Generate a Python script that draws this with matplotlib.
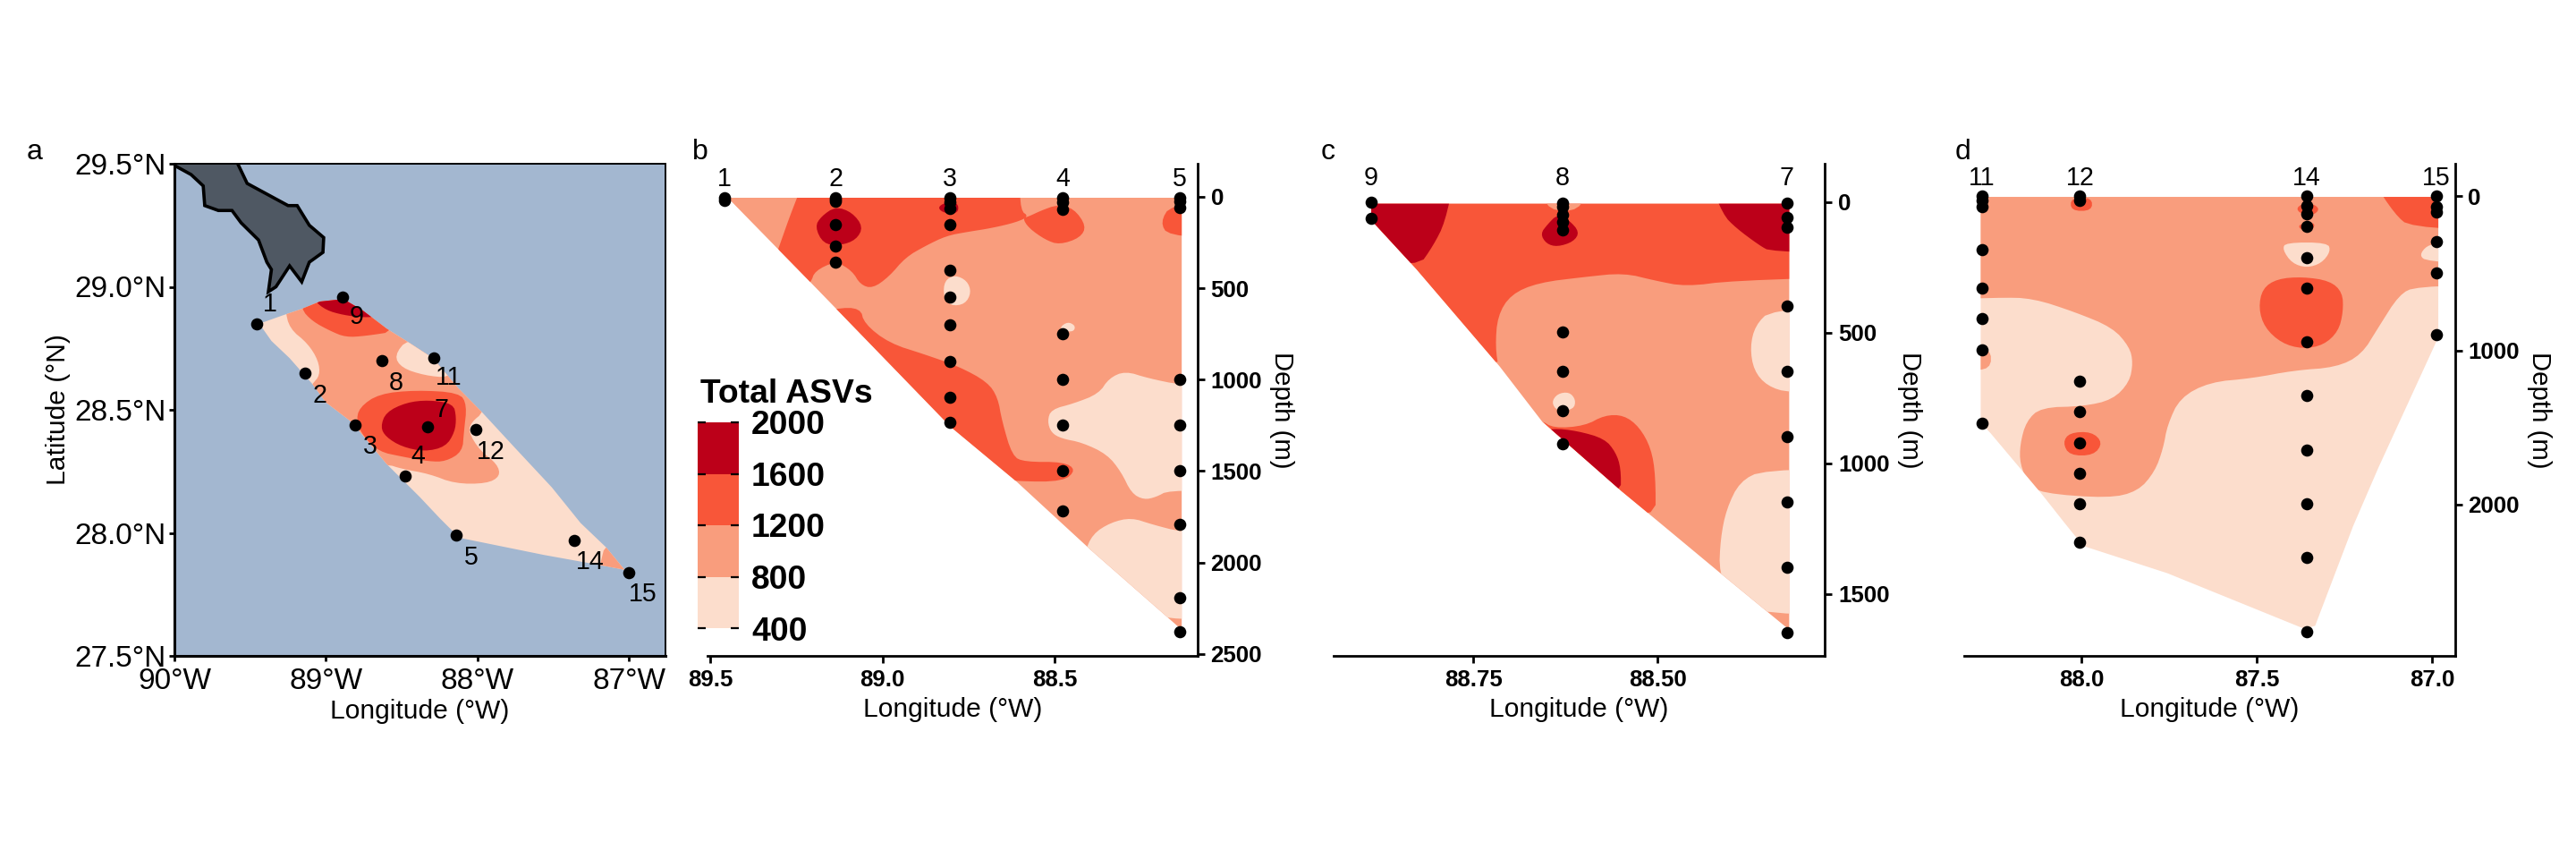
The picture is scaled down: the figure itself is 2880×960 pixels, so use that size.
import matplotlib
matplotlib.use('Agg')
import matplotlib.pyplot as plt
from matplotlib.patches import Polygon
from matplotlib.colors import ListedColormap
import numpy as np

plt.rcParams['font.family'] = ['Liberation Sans', 'DejaVu Sans']

LIGHT = '#FCDDCC'
SALMON = '#F99D7D'
RED = '#F85639'
DARK = '#BC0019'
SEA = '#A3B7D0'
LAND = '#4F5863'

# colour key
key_levels = [400, 800, 1200, 1600, 2000]

# panel a, stations (lon W, lat)
map_names = ['1', '2', '3', '4', '5', '7', '8', '9', '11', '12', '14', '15']
map_lon = [89.46, 89.14, 88.81, 88.48, 88.14, 88.33, 88.63, 88.89, 88.29, 88.01, 87.36, 87.00]
map_lat = [28.85, 28.65, 28.44, 28.23, 27.99, 28.43, 28.70, 28.96, 28.71, 28.42, 27.97, 27.84]
map_label_lon = [89.37, 89.04, 88.71, 88.39, 88.04, 88.24, 88.54, 88.80, 88.19, 87.91, 87.26, 86.91]
map_label_lat = [28.93, 28.56, 28.35, 28.31, 27.90, 28.50, 28.61, 28.88, 28.63, 28.33, 27.88, 27.75]

land = [(90.02, 29.5), (89.89, 29.456), (89.81, 29.41), (89.80, 29.33), (89.71, 29.31), (89.62, 29.31),
        (89.56, 29.26), (89.445, 29.19), (89.39, 29.10), (89.36, 29.07), (89.38, 28.98), (89.33, 29.00),
        (89.24, 29.085), (89.16, 29.02), (89.11, 29.10), (89.02, 29.14), (89.015, 29.20), (89.11, 29.25),
        (89.19, 29.33), (89.25, 29.33), (89.52, 29.42), (89.59, 29.51), (90.02, 29.51)]

a_hull = [(89.44, 28.85), (89.28, 28.885), (89.16, 28.91), (89.04, 28.94), (88.885, 28.95), (88.76, 28.905),
          (88.60, 28.83), (88.47, 28.78), (88.295, 28.71), (88.13, 28.59), (87.97, 28.49), (87.76, 28.35),
          (87.51, 28.185), (87.32, 28.04), (87.15, 27.94), (87.03, 27.85), (87.20, 27.87), (87.56, 27.91),
          (88.12, 27.98), (88.25, 28.06), (88.38, 28.145), (88.60, 28.28), (88.83, 28.45), (89.00, 28.53),
          (89.09, 28.605), (89.24, 28.71), (89.36, 28.78)]
a_salmon = [(89.27, 28.91), (89.24, 28.83), (89.12, 28.77), (89.05, 28.70), (89.04, 28.64), (89.09, 28.605),
            (89.15, 28.55), (88.855, 28.26), (88.60, 28.28), (88.50, 28.26), (88.32, 28.24), (88.15, 28.20),
            (87.94, 28.20), (87.85, 28.23), (87.87, 28.28), (87.985, 28.335), (88.06, 28.41), (88.04, 28.45),
            (87.96, 28.49), (87.91, 28.63), (88.50, 29.02), (89.27, 28.99)]
a_light_11 = [(88.46, 28.79), (88.55, 28.72), (88.50, 28.67), (88.35, 28.64), (88.19, 28.63), (88.15, 28.68),
              (88.265, 28.755)]
a_red_mid = [(88.80, 28.45), (88.78, 28.51), (88.65, 28.565), (88.41, 28.58), (88.12, 28.57), (88.07, 28.52),
             (88.09, 28.41), (88.10, 28.33), (88.21, 28.29), (88.32, 28.29), (88.50, 28.31), (88.65, 28.33),
             (88.75, 28.39)]
a_dark_mid = [(88.64, 28.43), (88.605, 28.49), (88.47, 28.53), (88.32, 28.54), (88.16, 28.525), (88.14, 28.47),
              (88.15, 28.41), (88.21, 28.35), (88.35, 28.33), (88.50, 28.35), (88.605, 28.39)]
a_red_top = [(89.165, 28.91), (89.09, 28.86), (88.97, 28.82), (88.87, 28.795), (88.74, 28.80), (88.53, 28.82),
             (88.71, 28.96), (89.15, 28.99)]
a_dark_top = [(89.08, 28.945), (89.00, 28.905), (88.885, 28.885), (88.75, 28.875), (88.65, 28.88), (88.80, 28.98),
              (89.03, 28.98)]
a_salmon_15 = [(87.19, 27.875), (87.155, 27.96), (87.0, 27.9), (86.97, 27.82), (87.2, 27.83)]

# panel b, transect 1-5 (lon W, depth m)
b_names = ['1', '2', '3', '4', '5']
b_lon = [89.458, 89.136, 88.804, 88.477, 88.136]
b_depths = [[5, 20],
            [5, 15, 25, 150, 270, 355],
            [5, 30, 65, 150, 400, 550, 700, 900, 1095, 1235],
            [5, 30, 70, 750, 1000, 1250, 1500, 1720],
            [5, 25, 60, 1000, 1250, 1500, 1790, 2195, 2380]]
b_hull = [(89.449, 5), (88.131, 5), (88.131, 2368), (88.396, 1930), (88.611, 1557), (88.802, 1258), (89.208, 469)]
b_red_top = [(89.226, -100), (89.267, 96), (89.291, 224), (89.309, 320), (89.232, 501), (89.208, 469), (89.196, 405),
             (89.136, 352), (89.088, 405), (89.064, 480), (89.029, 501), (88.981, 437), (88.933, 331), (88.874, 267),
             (88.814, 213), (88.754, 192), (88.683, 171), (88.611, 139), (88.575, 107), (88.599, 75), (88.601, -100)]
b_dark_2 = [(89.196, 164), (89.178, 107), (89.136, 53), (89.088, 85), (89.056, 164), (89.076, 235), (89.124, 267),
            (89.172, 256)]
b_dark_3 = [(88.84, 60), (88.82, 32), (88.78, 32), (88.78, 90), (88.82, 90)]
b_red_4 = [(88.575, 107), (88.539, 75), (88.492, 43), (88.444, 64), (88.408, 160), (88.426, 224), (88.486, 262),
           (88.527, 235), (88.575, 171), (88.593, 117)]
b_red_5 = [(88.0, 30), (88.163, 43), (88.193, 139), (88.17, 213), (88.0, 224)]
b_red_low = [(89.136, 608), (89.064, 608), (89.053, 693), (88.981, 800), (88.874, 864), (88.778, 928), (88.695, 1013),
             (88.665, 1098), (88.653, 1226), (88.623, 1418), (88.587, 1450), (88.474, 1450), (88.438, 1493),
             (88.474, 1557), (88.611, 1557), (88.754, 1525), (89.232, 672)]
b_light_3 = [(88.82, 459), (88.79, 427), (88.754, 459), (88.742, 523), (88.76, 587), (88.802, 597), (88.823, 544)]
b_light_4 = [(88.486, 715), (88.462, 683), (88.44, 704), (88.444, 736), (88.468, 736)]
b_light_right = [(88.521, 1226), (88.51, 1163), (88.444, 1130), (88.372, 1077), (88.342, 992), (88.295, 953),
                 (88.229, 992), (88.131, 1030), (88.0, 1035), (88.0, 1610), (88.17, 1606), (88.205, 1642),
                 (88.241, 1657), (88.277, 1621), (88.307, 1504), (88.348, 1408), (88.42, 1344), (88.48, 1322),
                 (88.51, 1290)]
b_light_low = [(88.39, 1845), (88.337, 1781), (88.277, 1755), (88.217, 1792), (88.131, 1834), (88.0, 1840),
               (88.0, 2310), (88.175, 2310), (88.277, 2250), (88.414, 1952)]

# panel c, transect 9-7
c_names = ['9', '8', '7']
c_lon = [88.888, 88.629, 88.325]
c_depths = [[2, 64],
            [5, 20, 48, 75, 109, 498, 648, 800, 924],
            [6, 60, 98, 398, 648, 898, 1148, 1398, 1648]]
c_hull = [(88.888, 7), (88.322, 7), (88.322, 1637), (88.415, 1421), (88.504, 1212), (88.549, 1107), (88.657, 839),
          (88.714, 630), (88.827, 257), (88.888, 70)]
c_red_top = [(88.2, -100), (88.2, 285), (88.399, 301), (88.462, 324), (88.504, 301), (88.546, 272), (88.599, 287),
             (88.662, 309), (88.699, 354), (88.717, 436), (88.72, 555), (88.715, 645), (88.819, 451), (89.0, -100)]
c_salmon_8 = [(88.66, -60), (88.594, -60), (88.606, 34), (88.648, 34)]
c_dark_left = [(88.95, -100), (88.775, -100), (88.788, 78), (88.804, 167), (88.825, 252), (88.95, 200)]
c_dark_right = [(88.432, -100), (88.412, 48), (88.394, 100), (88.362, 167), (88.347, 190), (88.2, 200),
                (88.2, -100)]
c_dark_8 = [(88.659, 122), (88.649, 85), (88.636, 48), (88.62, 70), (88.606, 115), (88.614, 152), (88.636, 172),
            (88.651, 160)]
c_red_low = [(88.659, 834), (88.641, 866), (88.599, 857), (88.572, 816), (88.546, 816), (88.525, 861), (88.509, 943),
             (88.503, 1048), (88.503, 1227), (88.609, 1122), (88.683, 839)]
c_dark_low = [(88.643, 866), (88.609, 876), (88.572, 906), (88.557, 958), (88.55, 1018), (88.55, 1122), (88.609, 1048),
              (88.662, 884)]
c_light_up = [(88.2, 388), (88.347, 413), (88.368, 473), (88.375, 555), (88.37, 645), (88.352, 704), (88.322, 731),
              (88.2, 734)]
c_light_low = [(88.2, 1021), (88.357, 1025), (88.389, 1070), (88.407, 1175), (88.415, 1287), (88.417, 1421),
               (88.399, 1525), (88.352, 1578), (88.2, 1578)]
c_light_8 = [(88.644, 767), (88.636, 734), (88.62, 727), (88.611, 757), (88.614, 794), (88.636, 801)]

# panel d, transect 11-15
d_names = ['11', '12', '14', '15']
d_lon = [88.284, 88.004, 87.359, 86.988]
d_depths = [[0, 30, 70, 346, 597, 796, 999, 1474],
            [0, 25, 1198, 1398, 1598, 1797, 1997, 2245],
            [0, 63, 114, 197, 397, 597, 945, 1294, 1646, 1995, 2343, 2826],
            [0, 68, 106, 296, 498, 897]]
d_hull = [(88.287, 5), (86.983, 5), (86.983, 915), (87.154, 1762), (87.226, 2141), (87.334, 2786), (87.364, 2806),
          (87.755, 2445), (87.995, 2268), (88.049, 2116), (88.115, 1926), (88.26, 1534), (88.287, 1471)]
d_salmon = [(88.5, 680), (88.236, 657), (88.139, 662), (88.019, 751), (87.911, 852), (87.863, 978), (87.853, 1079),
            (87.863, 1206), (87.911, 1320), (87.995, 1363), (88.115, 1370), (88.157, 1459), (88.175, 1610),
            (88.175, 1737), (88.151, 1863), (88.115, 1926), (87.923, 1959), (87.839, 1914), (87.791, 1787),
            (87.767, 1636), (87.755, 1484), (87.719, 1307), (87.635, 1206), (87.514, 1181), (87.394, 1130),
            (87.274, 1110), (87.202, 1029), (87.154, 852), (87.094, 637), (87.046, 586), (86.8, 575),
            (86.8, -300), (88.5, -300)]
d_salmon_11 = [(88.33, 985), (88.258, 985), (88.258, 1125), (88.33, 1125)]
d_red_12a = [(88.03, 10), (87.97, 10), (87.97, 95), (88.03, 95)]
d_red_12b = [(88.053, 1598), (88.034, 1534), (87.971, 1527), (87.939, 1598), (87.965, 1681), (88.034, 1681)]
d_red_14a = [(87.388, 76), (87.364, 43), (87.334, 56), (87.322, 88), (87.34, 124), (87.376, 114)]
d_red_14b = [(87.382, 182), (87.334, 169), (87.34, 220), (87.376, 220)]
d_red_14c = [(87.495, 726), (87.484, 599), (87.442, 536), (87.37, 523), (87.292, 549), (87.256, 624), (87.254, 751),
             (87.268, 877), (87.31, 966), (87.37, 991), (87.43, 953), (87.478, 852)]
d_light_14 = [(87.427, 346), (87.418, 301), (87.298, 301), (87.29, 359), (87.316, 435), (87.358, 465), (87.40, 435)]
d_light_15 = [(87.037, 384), (87.016, 321), (86.983, 308), (86.8, 300), (86.8, 455), (87.016, 422)]
d_red_15 = [(87.17, -100), (87.106, 119), (87.064, 200), (86.8, 225), (86.8, -100)]


def chaikin(pts, rounds=2):
    # round off the hand read outlines
    pts = np.array(pts, dtype=float)
    for _ in range(rounds):
        nxt = np.roll(pts, -1, axis=0)
        pts = np.column_stack([0.75 * pts + 0.25 * nxt, 0.25 * pts + 0.75 * nxt]).reshape(-1, 2)
    return pts


def draw_section(ax, hull, base, bands):
    hull_patch = Polygon(hull, closed=True, facecolor=base, edgecolor='none', linewidth=0, zorder=1)
    ax.add_patch(hull_patch)
    for i, (pts, color) in enumerate(bands):
        p = Polygon(chaikin(pts), closed=True, facecolor=color, edgecolor='none', linewidth=0, zorder=2 + i * 0.01)
        ax.add_patch(p)
        p.set_clip_path(hull_patch)


W, H = 2880, 960


def add_axes(left, right, top, bottom):
    return fig.add_axes([left / W, 1 - bottom / H, (right - left) / W, (bottom - top) / H])


def section_axes(ax, names, lons, depths, xlim, ylim, xticks, xticklabels, yticks, label_depth):
    for lon, name, dep in zip(lons, names, depths):
        ax.scatter([lon] * len(dep), dep, s=24, color='black', zorder=5, clip_on=False, linewidths=0)
        ax.text(lon, label_depth, name, ha='center', va='center', fontsize=10.3, clip_on=False)
    ax.set_xlim(xlim)
    ax.set_ylim(ylim)
    ax.set_xticks(xticks)
    ax.set_xticklabels(xticklabels, fontweight='bold', fontsize=9.3)
    ax.set_yticks(yticks)
    ax.set_yticklabels([str(t) for t in yticks], fontweight='bold', fontsize=9.3)
    ax.yaxis.tick_right()
    ax.yaxis.set_label_position('right')
    ax.set_ylabel('Depth (m)', rotation=270, fontsize=10.6, labelpad=13)
    ax.set_xlabel('Longitude (°W)', fontsize=10.8, labelpad=2.5)
    ax.spines['top'].set_visible(False)
    ax.spines['left'].set_visible(False)
    for s in ['right', 'bottom']:
        ax.spines[s].set_linewidth(1.0)
    ax.tick_params(width=1.0, length=3, pad=2.4)


fig = plt.figure(figsize=(W / 200, H / 200), dpi=200)

# panel a
ax_a = add_axes(195, 744, 183, 733)
ax_a.set_facecolor(SEA)
ax_a.add_patch(Polygon(land, closed=True, facecolor=LAND, edgecolor='black', linewidth=1.3, zorder=1.5))
draw_section(ax_a, a_hull, LIGHT, [(a_salmon, SALMON), (a_light_11, LIGHT), (a_red_mid, RED), (a_dark_mid, DARK),
                                   (a_red_top, RED), (a_dark_top, DARK), (a_salmon_15, SALMON)])
ax_a.scatter(map_lon, map_lat, s=24, color='black', zorder=5, linewidths=0)
for name, x, y in zip(map_names, map_label_lon, map_label_lat):
    ax_a.text(x, y, name, ha='center', va='center', fontsize=10.3, zorder=6)
ax_a.set_xlim(90, 86.76)
ax_a.set_ylim(27.5, 29.5)
ax_a.set_xticks([90, 89, 88, 87])
ax_a.set_xticklabels(['90°W', '89°W', '88°W', '87°W'], fontsize=12)
ax_a.set_yticks([27.5, 28.0, 28.5, 29.0, 29.5])
ax_a.set_yticklabels(['27.5°N', '28.0°N', '28.5°N', '29.0°N', '29.5°N'], fontsize=12)
ax_a.set_xlabel('Longitude (°W)', fontsize=10.8, labelpad=1.5)
ax_a.set_ylabel('Latitude (°N)', fontsize=10.8, labelpad=1.5)
ax_a.tick_params(axis='x', width=1.0, length=2, pad=2.5)
ax_a.tick_params(axis='y', width=1.0, length=2, pad=1.5)
for s in ['left', 'bottom']:
    ax_a.spines[s].set_linewidth(1.1)
for s in ['top', 'right']:
    ax_a.spines[s].set_linewidth(0.7)

# panel b
ax_b = add_axes(791, 1338.5, 183, 733)
draw_section(ax_b, b_hull, SALMON, [(b_red_top, RED), (b_dark_2, DARK), (b_dark_3, DARK), (b_red_4, RED), (b_red_5, RED),
                                    (b_red_low, RED), (b_light_3, LIGHT), (b_light_4, LIGHT), (b_light_right, LIGHT),
                                    (b_light_low, LIGHT)])
section_axes(ax_b, b_names, b_lon, b_depths, (89.508, 88.086), (2511, -181), [89.5, 89.0, 88.5],
             ['89.5', '89.0', '88.5'], [0, 500, 1000, 1500, 2000, 2500], -100)

# panel c
ax_c = add_axes(1491, 2040, 183, 733)
draw_section(ax_c, c_hull, SALMON, [(c_red_top, RED), (c_salmon_8, SALMON), (c_dark_left, DARK), (c_dark_right, DARK),
                                    (c_dark_8, DARK), (c_red_low, RED), (c_dark_low, DARK), (c_light_up, LIGHT),
                                    (c_light_low, LIGHT), (c_light_8, LIGHT)])
section_axes(ax_c, c_names, c_lon, c_depths, (88.939, 88.274), (1737, -146), [88.75, 88.50],
             ['88.75', '88.50'], [0, 500, 1000, 1500], -92)

# panel d
ax_d = add_axes(2196, 2744.5, 183, 733)
draw_section(ax_d, d_hull, LIGHT, [(d_salmon, SALMON), (d_salmon_11, SALMON), (d_red_12a, RED), (d_red_12b, RED),
                                   (d_red_14a, RED), (d_red_14b, RED), (d_red_14c, RED), (d_light_14, LIGHT),
                                   (d_light_15, LIGHT), (d_red_15, RED)])
section_axes(ax_d, d_names, d_lon, d_depths, (88.334, 86.936), (2981, -210), [88.0, 87.5, 87.0],
             ['88.0', '87.5', '87.0'], [0, 1000, 2000], -118)

# colour key sits inside panel b
ax_key = add_axes(780, 826, 472, 702)
cmap = ListedColormap([LIGHT, SALMON, RED, DARK])
ax_key.pcolormesh([0, 1], key_levels, np.arange(4).reshape(-1, 1), cmap=cmap, vmin=-0.5, vmax=3.5)
ax_key.set_xticks([])
ax_key.set_yticks(key_levels)
ax_key.set_yticklabels([str(v) for v in key_levels], fontweight='bold', fontsize=13.4)
ax_key.yaxis.tick_right()
ax_key.tick_params(axis='y', left=True, right=True, direction='in', length=3.4, width=0.8, pad=5)
for s in ax_key.spines.values():
    s.set_visible(False)
fig.text(783 / W, 1 - 441 / H, 'Total ASVs', fontweight='bold', fontsize=13.4, ha='left', va='center')

# panel letters
for letter, x in zip('abcd', [30, 774, 1477, 2186]):
    fig.text(x / W, 1 - 170 / H, letter, fontsize=11.5, ha='left', va='center')

fig.savefig('out.png', dpi=200, facecolor='white')
